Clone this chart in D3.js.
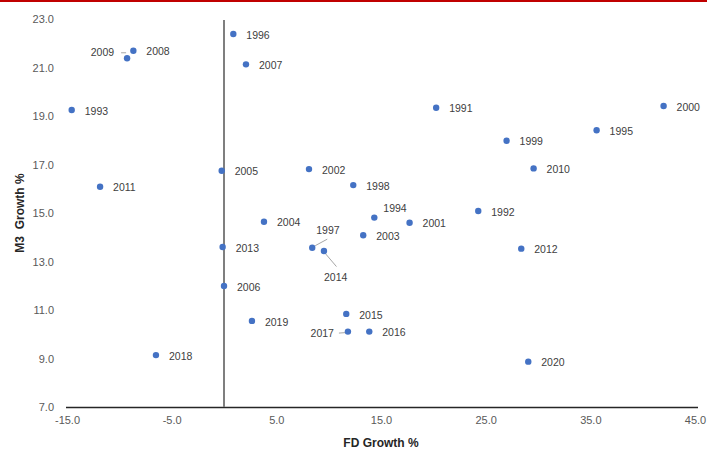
<!DOCTYPE html>
<html>
<head>
<meta charset="utf-8">
<script src="https://cdn.jsdelivr.net/npm/d3@7"></script>
<style>
  html, body { margin: 0; padding: 0; background: #fff; }
  svg { display: block; }
  text { font-family: "Liberation Sans", Arial, sans-serif; }
</style>
</head>
<body>
<svg id="chart" width="707" height="450"></svg>
<script>
// ---- data ----
const years = [1991,1992,1993,1994,1995,1996,1997,1998,1999,2000,
               2001,2002,2003,2004,2005,2006,2007,2008,2009,2010,
               2011,2012,2013,2014,2015,2016,2017,2018,2019,2020];
const fdGrowth = [20.27,24.29,-14.55,14.36,35.6,0.89,8.43,12.35,27.0,42.0,
                  17.73,8.12,13.3,3.82,-0.22,0.0,2.1,-8.66,-9.26,29.58,
                  -11.84,28.4,-0.13,9.55,11.68,13.88,11.84,-6.5,2.67,29.07];
const m3Growth = [19.34,15.08,19.25,14.81,18.41,22.38,13.57,16.15,17.98,19.41,
                  14.6,16.81,14.08,14.64,16.74,11.99,21.13,21.69,21.38,16.84,
                  16.08,13.53,13.6,13.43,10.84,10.11,10.11,9.14,10.55,8.87];
const xTicks = [-15, -5, 5, 15, 25, 35, 45];
const yTicks = [7, 9, 11, 13, 15, 17, 19, 21, 23];
const xTitle = "FD Growth %";
const yTitle = "M3  Growth %";

// ---- label layout (pixel offsets relative to point) ----
const labelLayout = {
  2009: { dx: -13, dy: -5.5, anchor: "end", leader: [[-6, -5.5], [-1, -5.5]] },
  1997: { dx: 4, dy: -17, anchor: "start", leader: [[3, -2], [15, -8.5]] },
  2014: { dx: 0, dy: 26, anchor: "start", leader: [[1, 2], [12.5, 15.5]] },
  2017: { dx: -14, dy: 2, anchor: "end", leader: [[-9, 1.5], [-2, 1]] },
  1994: { dx: 9, dy: -9, anchor: "start" }
};

const data = years.map((yr, i) => ({ year: yr, fd: fdGrowth[i], m3: m3Growth[i] }));

const svg = d3.select("#chart");

// top red rule
svg.append("rect").attr("x", 0).attr("y", 0).attr("width", 707).attr("height", 2).attr("fill", "#C00000");

const x = d3.scaleLinear().domain([-15, 45]).range([67, 695]);
const y = d3.scaleLinear().domain([7, 23]).range([407, 19]);

// x axis
const xAxis = svg.append("g")
  .attr("transform", `translate(0,${y(7)})`)
  .call(d3.axisBottom(x).tickValues(xTicks).tickSize(0).tickPadding(9).tickFormat(d => d.toFixed(1)));
xAxis.select(".domain").attr("stroke", "#262626").attr("stroke-width", 1.3)
  .attr("d", `M${x(-15) - 1},0.5H${x(45) + 3}`);
xAxis.selectAll("text").attr("font-size", 11).attr("fill", "#595959")
  .attr("font-family", "Liberation Sans, Arial, sans-serif");

// y axis (labels only)
const yAxis = svg.append("g")
  .attr("transform", `translate(${x(-15)},0)`)
  .call(d3.axisLeft(y).tickValues(yTicks).tickSize(0).tickPadding(13).tickFormat(d => d.toFixed(1)));
yAxis.select(".domain").remove();
yAxis.selectAll("text").attr("font-size", 11).attr("fill", "#595959")
  .attr("font-family", "Liberation Sans, Arial, sans-serif");

// vertical line at FD = 0
svg.append("line")
  .attr("x1", x(0)).attr("x2", x(0))
  .attr("y1", y(23) + 1).attr("y2", y(7))
  .attr("stroke", "#7f7f7f").attr("stroke-width", 2);

// axis titles
svg.append("text")
  .attr("x", 381).attr("y", 447)
  .attr("text-anchor", "middle")
  .attr("font-size", 12).attr("font-weight", "bold").attr("fill", "#262626")
  .text(xTitle);
svg.append("text")
  .attr("transform", "translate(24,213) rotate(-90)")
  .attr("text-anchor", "middle")
  .attr("font-size", 12).attr("font-weight", "bold").attr("fill", "#262626")
  .style("white-space", "pre")
  .text(yTitle);

// leader lines
const g = svg.append("g");
data.forEach(d => {
  const L = labelLayout[d.year];
  if (L && L.leader) {
    const px = x(d.fd), py = y(d.m3);
    g.append("line")
      .attr("x1", px + L.leader[0][0]).attr("y1", py + L.leader[0][1])
      .attr("x2", px + L.leader[1][0]).attr("y2", py + L.leader[1][1])
      .attr("stroke", "#a6a6a6").attr("stroke-width", 1);
  }
});

// points
g.selectAll("circle").data(data).enter().append("circle")
  .attr("cx", d => x(d.fd)).attr("cy", d => y(d.m3))
  .attr("r", 3.2).attr("fill", "#4472C4");

// labels
g.selectAll("text.lbl").data(data).enter().append("text")
  .attr("class", "lbl")
  .attr("x", d => x(d.fd) + (labelLayout[d.year] ? labelLayout[d.year].dx : 13))
  .attr("y", d => y(d.m3) + (labelLayout[d.year] ? labelLayout[d.year].dy : 1))
  .attr("dy", "0.35em")
  .attr("text-anchor", d => labelLayout[d.year] ? labelLayout[d.year].anchor : "start")
  .attr("font-size", 10.5).attr("fill", "#404040")
  .text(d => d.year);
</script>
</body>
</html>
